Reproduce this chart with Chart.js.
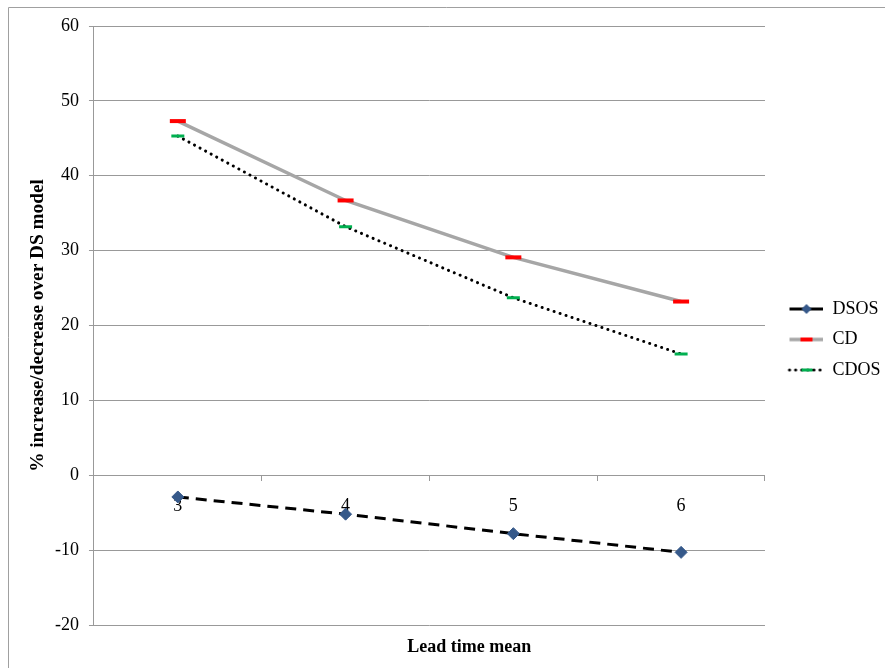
<!DOCTYPE html>
<html>
<head>
<meta charset="utf-8">
<title>Lead time mean</title>
<script src="https://cdn.jsdelivr.net/npm/chart.js@4.4.1/dist/chart.umd.min.js"></script>
<style>
  html, body { margin: 0; padding: 0; background: #fff; overflow: hidden; }
  canvas { display: block; }
</style>
</head>
<body>
<canvas id="chart" width="885" height="668"></canvas>
<script>
// Data
const leadTimes = ['3', '4', '5', '6'];
const dsos = [-2.9, -5.2, -7.8, -10.3];
const cd = [47.3, 36.7, 29.1, 23.2];
const cdos = [45.3, 33.2, 23.7, 16.2];
const yMin = -20, yMax = 60, yStep = 10;

const gridColor = '#999999';
const serif = "'Liberation Serif', 'Times New Roman', serif";

Chart.defaults.font.family = serif;
Chart.defaults.font.size = 18;
Chart.defaults.color = '#000';

// Legend samples: line piece + marker, like the spreadsheet legend
function legendIcon(kind) {
  const c = document.createElement('canvas');
  c.width = 46;
  c.height = 14;
  const g = c.getContext('2d');
  const y = 7;
  g.beginPath();
  if (kind === 'dsos') {
    g.strokeStyle = '#000'; g.lineWidth = 3;
  } else if (kind === 'cd') {
    g.strokeStyle = '#a6a6a6'; g.lineWidth = 3.5;
  } else {
    g.strokeStyle = '#000'; g.lineWidth = 3; g.lineCap = 'round';
    g.setLineDash([0.1, 6]);
  }
  g.moveTo(12, y);
  g.lineTo(46, y);
  g.stroke();
  g.setLineDash([]);
  if (kind === 'dsos') {
    g.fillStyle = '#36598a';
    g.beginPath();
    g.moveTo(29, y - 5); g.lineTo(34, y); g.lineTo(29, y + 5); g.lineTo(24, y);
    g.closePath();
    g.fill();
  } else if (kind === 'cd') {
    g.fillStyle = '#ff0000';
    g.fillRect(23, y - 2, 12, 4);
  } else {
    g.fillStyle = '#00b050';
    g.fillRect(24, y - 1.5, 11, 3);
  }
  return c;
}
const icons = [legendIcon('dsos'), legendIcon('cd'), legendIcon('cdos')];

// Outer chart frame (only left and top edges are inside the picture)
const frame = {
  id: 'frame',
  beforeDraw(chart) {
    const g = chart.ctx;
    g.save();
    g.strokeStyle = '#a0a0a0';
    g.lineWidth = 1;
    g.beginPath();
    g.moveTo(8.5, chart.height);
    g.lineTo(8.5, 7.5);
    g.lineTo(chart.width, 7.5);
    g.stroke();
    g.restore();
  }
};

const ctx = document.getElementById('chart').getContext('2d');
new Chart(ctx, {
  type: 'line',
  data: {
    labels: leadTimes,
    datasets: [
      {
        label: 'DSOS',
        data: dsos,
        borderColor: '#000',
        borderWidth: 3,
        borderDash: [11, 7],
        pointStyle: 'rectRot',
        pointRadius: 6,
        pointHoverRadius: 6,
        pointBackgroundColor: '#36598a',
        pointBorderColor: '#36598a',
        pointBorderWidth: 1
      },
      {
        label: 'CD',
        data: cd,
        borderColor: '#a6a6a6',
        borderWidth: 3.5,
        pointStyle: 'line',
        pointRadius: 8,
        pointHoverRadius: 8,
        pointBorderColor: '#ff0000',
        pointBorderWidth: 4
      },
      {
        label: 'CDOS',
        data: cdos,
        borderColor: '#000',
        borderWidth: 3,
        borderDash: [0.1, 6.2],
        borderCapStyle: 'round',
        pointStyle: 'line',
        pointRadius: 6.5,
        pointHoverRadius: 6.5,
        pointBorderColor: '#00b050',
        pointBorderWidth: 3
      }
    ]
  },
  plugins: [frame],
  options: {
    responsive: false,
    devicePixelRatio: 1,
    animation: false,
    events: [],
    layout: { padding: { left: 48, top: 26, right: -5.5, bottom: 15 } },
    plugins: {
      tooltip: { enabled: false },
      legend: {
        position: 'right',
        align: 'center',
        labels: {
          usePointStyle: true,
          pointStyleWidth: 46,
          padding: 12.5,
          font: { size: 18 },
          generateLabels: chart => chart.data.datasets.map((ds, i) => ({
            text: ds.label,
            pointStyle: icons[i],
            datasetIndex: i,
            hidden: false,
            fontColor: '#000',
            lineWidth: 0
          }))
        }
      },
      title: {
        display: true,
        position: 'bottom',
        text: 'Lead time mean',
        color: '#000',
        font: { size: 18, weight: 'bold' },
        padding: { top: 11.2, bottom: -4.8 }
      }
    },
    scales: {
      x: {
        type: 'category',
        position: { y: 0 },
        offset: true,
        grid: { offset: true, drawOnChartArea: false, drawTicks: true, tickLength: 5, color: gridColor },
        border: { display: true, color: gridColor },
        ticks: { padding: 15, color: '#000', font: { size: 18 } }
      },
      y: {
        min: yMin,
        max: yMax,
        ticks: { stepSize: yStep, padding: 10, color: '#000', font: { size: 18 } },
        grid: { color: gridColor, tickLength: 5 },
        border: { color: gridColor },
        title: {
          display: true,
          text: '% increase/decrease over DS model',
          color: '#000',
          font: { size: 19.3, weight: 'bold' },
          padding: { top: -21.6, bottom: -4.6 }
        }
      }
    }
  }
});
</script>
</body>
</html>
